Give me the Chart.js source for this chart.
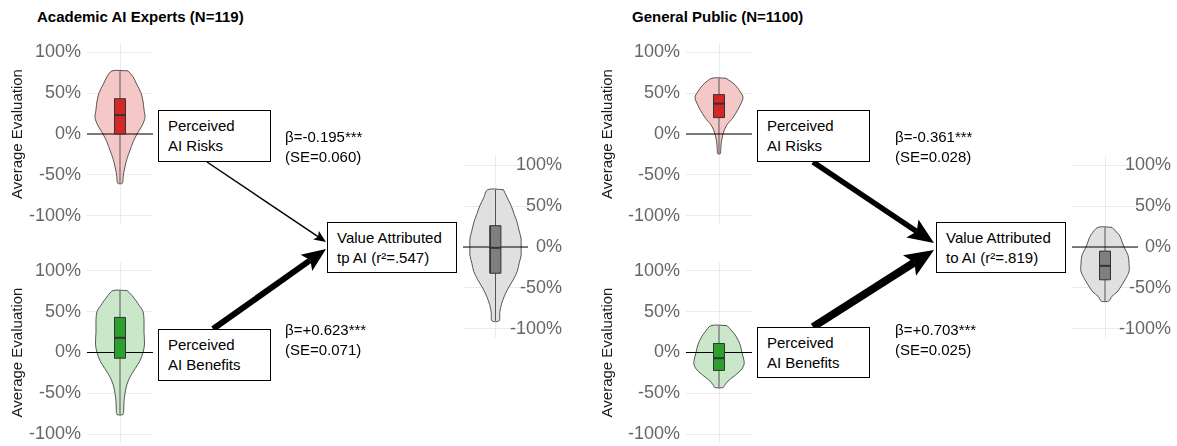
<!DOCTYPE html>
<html>
<head>
<meta charset="utf-8">
<script src="https://cdn.jsdelivr.net/npm/chart.js@4.4.0/dist/chart.umd.min.js"></script>
<style>
  body { margin: 0; background: #fff; }
  #fig { position: relative; width: 1177px; height: 446px; background: #fff; font-family: "Liberation Sans", Arial, sans-serif; color: #000; }
  .title { position: absolute; font-weight: bold; font-size: 15px; line-height: 18px; white-space: nowrap; }
  .node { position: absolute; box-sizing: border-box; border: 1px solid #000; background: #fff; font-size: 15px; line-height: 20px; padding: 5px 0 0 9px; white-space: nowrap; }
  .coef { position: absolute; font-size: 15px; line-height: 20px; white-space: nowrap; }
  canvas { position: absolute; }
  svg { position: absolute; left: 0; top: 0; }
</style>
</head>
<body>
<div id="fig">
  <div class="title" style="left:37px;top:8px">Academic AI Experts (N=119)</div>
  <div class="title" style="left:632px;top:8px">General Public (N=1100)</div>

  <canvas id="expertsRisk" width="153" height="182" style="left:0;top:43px"></canvas>
  <canvas id="expertsBenefit" width="153" height="181" style="left:0;top:262px"></canvas>
  <canvas id="expertsValue" width="99" height="182" style="left:463px;top:156px"></canvas>
  <canvas id="publicRisk" width="162" height="182" style="left:590px;top:43px"></canvas>
  <canvas id="publicBenefit" width="162" height="181" style="left:590px;top:262px"></canvas>
  <canvas id="publicValue" width="99" height="182" style="left:1072px;top:156px"></canvas>

  <svg id="arrows" width="1177" height="446"></svg>

  <div class="node" style="left:158px;top:110px;width:113px;height:52px">Perceived<br>AI Risks</div>
  <div class="node" style="left:158px;top:329px;width:113px;height:52px">Perceived<br>AI Benefits</div>
  <div class="node" style="left:327px;top:222px;width:130px;height:51px">Value Attributed<br>tp AI (r²=.547)</div>
  <div class="node" style="left:757px;top:110px;width:113px;height:52px">Perceived<br>AI Risks</div>
  <div class="node" style="left:757px;top:327px;width:113px;height:51px">Perceived<br>AI Benefits</div>
  <div class="node" style="left:936px;top:222px;width:130px;height:51px">Value Attributed<br>to AI (r²=.819)</div>

  <div class="coef" style="left:285px;top:127px">β=-0.195***<br>(SE=0.060)</div>
  <div class="coef" style="left:285px;top:320px">β=+0.623***<br>(SE=0.071)</div>
  <div class="coef" style="left:895px;top:127px">β=-0.361***<br>(SE=0.028)</div>
  <div class="coef" style="left:895px;top:320px">β=+0.703***<br>(SE=0.025)</div>
</div>

<script>
// y ticks shared by every violin panel (labels only on the 50s)
const tickValues = [-100, -75, -50, -25, 0, 25, 50, 75, 100];

// violin outlines: evaluation level (%) and half-width of the density at that level
const expertsRiskLevels = [77, 70, 60, 50, 40, 30, 20, 10, 0, -10, -20, -30, -40, -50, -60];
const expertsRiskDensity = [8, 13, 17, 21, 23, 24, 25, 22, 17, 13, 10, 7, 5, 3.3, 2.3];
const expertsBenefitLevels = [76, 70, 60, 50, 40, 25, 10, 0, -10, -20, -30, -40, -50, -60, -70, -76];
const expertsBenefitDensity = [7, 12, 18, 23, 24, 24, 24.5, 23, 20, 15, 10, 6.7, 5, 4, 3.7, 3];
const expertsValueLevels = [70, 60, 50, 40, 30, 20, 10, 0, -10, -20, -30, -40, -50, -60, -70, -80, -90];
const expertsValueDensity = [8, 12, 16, 19, 22, 24, 26, 26, 26, 24, 22, 18, 13, 9, 6, 4.3, 3.7];

const publicRiskLevels = [68, 60, 50, 45, 40, 30, 20, 10, 0, -10, -20, -24];
const publicRiskDensity = [7, 16, 22, 24, 23, 19, 14, 7.3, 4, 2.3, 1.7, 1.3];
const publicBenefitLevels = [33, 25, 20, 10, 0, -10, -15, -20, -25, -30, -35, -40, -43];
const publicBenefitDensity = [8, 14, 17, 21, 23, 25, 25, 23, 19, 14, 9, 5.7, 4];
const publicValueLevels = [24, 15, 10, 0, -10, -20, -30, -40, -50, -55, -60, -66];
const publicValueDensity = [7, 14, 16, 19, 23, 24, 24, 20, 15, 12, 7, 3.7];

// boxplot stats: [min, q1, median, q3, max]
const expertsRiskBox = [-60, 0, 23, 43, 77];
const expertsBenefitBox = [-76, -7, 18, 43, 76];
const expertsValueBox = [-90, -32, -1, 26, 70];
const publicRiskBox = [-24, 20, 37, 48, 68];
const publicBenefitBox = [-43, -22, -7, 11, 33];
const publicValueBox = [-66, -40, -23, -5, 24];

Chart.defaults.font.family = '"Liberation Sans", Arial, sans-serif';

const riskColors = { fill: '#f5c8c8', box: '#d62728' };
const benefitColors = { fill: '#cbe7c9', box: '#2ca02c' };
const valueColors = { fill: '#e0e0e0', box: '#7f7f7f' };

const HALF = 33;  // half the x range, about one unit per pixel
const BOX_W = 5.5;

function violin(id, levels, density, stats, colors, side, axisWidth) {
  // right side top->bottom, then left side bottom->top, closed
  const outline = levels.map((v, i) => ({ x: density[i], y: v }));
  for (let i = levels.length - 1; i >= 0; i--) outline.push({ x: -density[i], y: levels[i] });
  outline.push(outline[0]);

  const [lo, q1, med, q3, hi] = stats;
  const line = { showLine: true, pointRadius: 0, fill: false };
  const onLeft = side === 'left';

  new Chart(document.getElementById(id), {
    type: 'scatter',
    data: {
      datasets: [
        { ...line, data: outline, fill: 'shape', backgroundColor: colors.fill, borderColor: '#444', borderWidth: 0.9, tension: 0.3, order: 5 },
        { ...line, data: [{ x: 0, y: lo }, { x: 0, y: hi }], borderColor: '#555', borderWidth: 1, order: 4 },
        { ...line, data: [{ x: -HALF, y: 0 }, { x: HALF, y: 0 }], borderColor: '#000', borderWidth: 1, order: 3 },
        { ...line, data: [{ x: -BOX_W, y: q1 }, { x: BOX_W, y: q1 }, { x: BOX_W, y: q3 }, { x: -BOX_W, y: q3 }, { x: -BOX_W, y: q1 }],
          fill: 'shape', backgroundColor: colors.box, borderColor: '#333', borderWidth: 1, order: 2 },
        { ...line, data: [{ x: -BOX_W, y: med }, { x: BOX_W, y: med }], borderColor: '#333', borderWidth: 2, order: 1 }
      ]
    },
    options: {
      responsive: false,
      animation: false,
      events: [],
      layout: { padding: 0 },
      plugins: { legend: { display: false }, tooltip: { enabled: false } },
      scales: {
        x: {
          type: 'linear', min: -HALF, max: HALF,
          ticks: { display: false },
          grid: { color: '#ebebeb', drawTicks: false },
          border: { display: false },
          afterBuildTicks: s => { s.ticks = [{ value: 0 }]; }
        },
        y: {
          type: 'linear', min: -111, max: 111, position: side,
          afterBuildTicks: s => { s.ticks = tickValues.map(v => ({ value: v })); },
          // fixed axis box so the panel lines up with the diagram; labels fit inside anyway
          afterFit: s => { s.width = axisWidth; s.paddingTop = 0; s.paddingBottom = 0; },
          ticks: {
            color: '#666', font: { size: 18 },
            // right-hand axes: labels hang back over the panel, right-aligned at the canvas edge
            mirror: !onLeft,
            padding: onLeft ? 6 : axisWidth,
            crossAlign: 'near',
            callback: v => (v % 50 === 0 ? v + '%' : '')
          },
          grid: { color: '#ebebeb', drawTicks: false },
          border: { display: false },
          title: {
            display: onLeft, text: 'Average Evaluation',
            color: '#1a1a1a', font: { size: 15 }, padding: { top: 8.5, bottom: 0 }
          }
        }
      }
    }
  });
}

violin('expertsRisk', expertsRiskLevels, expertsRiskDensity, expertsRiskBox, riskColors, 'left', 87);
violin('expertsBenefit', expertsBenefitLevels, expertsBenefitDensity, expertsBenefitBox, benefitColors, 'left', 87);
violin('expertsValue', expertsValueLevels, expertsValueDensity, expertsValueBox, valueColors, 'right', 34);
violin('publicRisk', publicRiskLevels, publicRiskDensity, publicRiskBox, riskColors, 'left', 96);
violin('publicBenefit', publicBenefitLevels, publicBenefitDensity, publicBenefitBox, benefitColors, 'left', 96);
violin('publicValue', publicValueLevels, publicValueDensity, publicValueBox, valueColors, 'right', 33);

// path arrows: from predictor box to outcome box, stroke grows with |beta|
const arrows = [
  { from: [207, 162], to: [326, 242], w: 1.5, head: 12 },
  { from: [213, 329], to: [326, 249], w: 6, head: 24 },
  { from: [813, 162], to: [934, 243], w: 5.5, head: 26 },
  { from: [813, 327], to: [934, 250], w: 8, head: 29 }
];

const svg = document.getElementById('arrows');
const NS = 'http://www.w3.org/2000/svg';
arrows.forEach(a => {
  const [x1, y1] = a.from, [x2, y2] = a.to;
  const len = Math.hypot(x2 - x1, y2 - y1);
  const ux = (x2 - x1) / len, uy = (y2 - y1) / len;
  const px = -uy, py = ux;
  const L = a.head, H = L * 0.42;
  const bx = x2 - ux * L, by = y2 - uy * L;
  const nx = x2 - ux * L * 0.8, ny = y2 - uy * L * 0.8;

  const ln = document.createElementNS(NS, 'line');
  ln.setAttribute('x1', x1); ln.setAttribute('y1', y1);
  ln.setAttribute('x2', nx); ln.setAttribute('y2', ny);
  ln.setAttribute('stroke', '#000'); ln.setAttribute('stroke-width', a.w);
  svg.appendChild(ln);

  const head = document.createElementNS(NS, 'polygon');
  head.setAttribute('points', [
    [x2, y2], [bx + px * H, by + py * H], [nx, ny], [bx - px * H, by - py * H]
  ].map(p => p.join(',')).join(' '));
  head.setAttribute('fill', '#000');
  svg.appendChild(head);
});
</script>
</body>
</html>
